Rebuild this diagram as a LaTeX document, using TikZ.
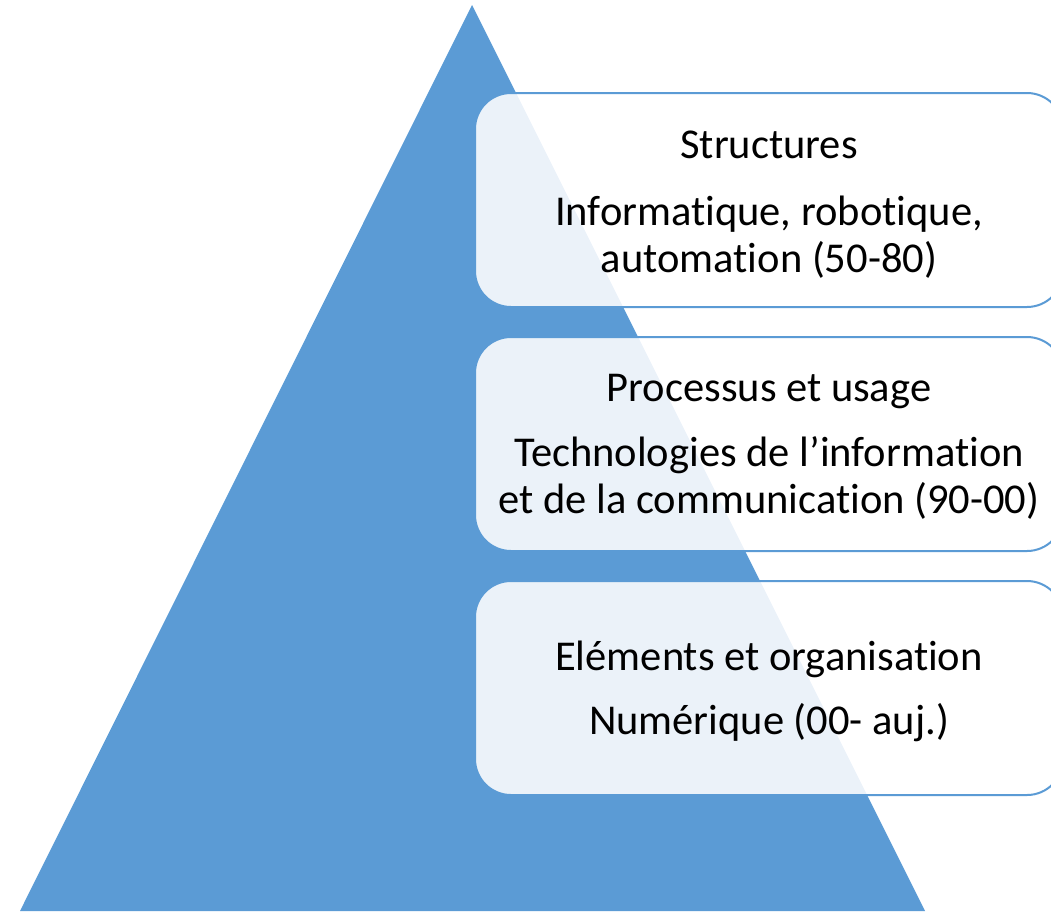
\documentclass[tikz,border=0pt]{standalone}
\usepackage{fontspec}
\setmainfont[Ligatures=NoCommon]{Carlito}
\definecolor{pyrblue}{HTML}{5B9BD5}
\tikzset{
  tier/.style={draw=pyrblue, line width=2pt, fill=white, fill opacity=0.88,
    text opacity=1, rounded corners=36pt, minimum width=588pt,
    minimum height=214pt, inner sep=0pt},
  tiertext/.style={align=center, inner sep=0pt, text opacity=1,
    font=\fontsize{42.5}{47}\selectfont}
}
\begin{document}
\begin{tikzpicture}[x=1pt,y=-1pt,line join=round]
		\useasboundingbox (0,0) rectangle (1051,911);
		\clip (0,0) rectangle (1051,911);
		% pyramid
		\fill[pyrblue] (472,5)--(925,911)--(20,911)--cycle;
		% tiers
		\node[tier, label={[tiertext,yshift=-5pt]center:{Structures\\[20pt]Informatique, robotique,\\automation (50-80)}}] (structures) at (769,200) {};
		\node[tier, label={[tiertext,yshift=-3pt]center:{Processus et usage\\[18pt]Technologies de l’information\\et de la communication (90-00)}}] (processus) at (769,444) {};
		\node[tier, label={[tiertext,yshift=-3pt]center:{Eléments et organisation\\[17pt]Numérique (00- auj.)}}] (elements) at (769,688) {};
\end{tikzpicture}
\end{document}
